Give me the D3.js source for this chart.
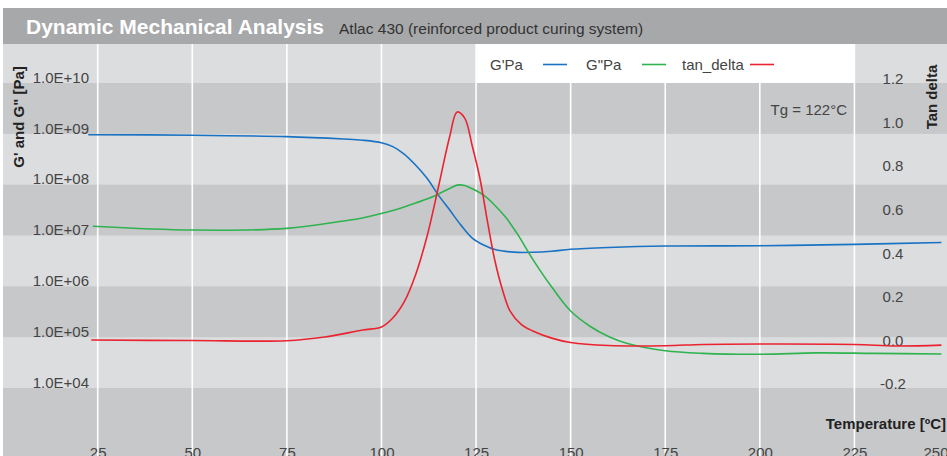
<!DOCTYPE html>
<html>
<head>
<meta charset="utf-8">
<script src="https://cdn.jsdelivr.net/npm/d3@7"></script>
<style>
  body { margin: 0; background: #fff; }
  svg { display: block; font-family: "Liberation Sans", Arial, sans-serif; }
</style>
</head>
<body>
<div id="chart"></div>
<script>
// DMA curves

// G' (storage modulus), Pa
const gPrimeTemp = [22.5, 50, 75, 90, 95, 100, 103, 106, 109, 112, 115, 118, 121, 124, 127, 130, 135, 140, 145, 150, 160, 175, 200, 225, 248];
const gPrimeVals = [9.6e8, 9.4e8, 8.8e8, 7.9e8, 7.5e8, 6.7e8, 5.6e8, 4.0e8, 2.44e8, 1.35e8, 6.3e7, 3.2e7, 1.6e7, 8.9e6, 6.5e6, 5.3e6, 4.7e6, 4.67e6, 4.9e6, 5.35e6, 5.8e6, 6.2e6, 6.3e6, 6.7e6, 7.3e6];

// G'' (loss modulus), Pa
const gDoubleTemp = [23.7, 50, 75, 90, 95, 100, 103, 106, 109, 112, 115, 118, 120, 122, 124, 127, 130, 133, 136, 140, 145, 150, 155, 160, 165, 175, 185, 200, 215, 230, 248];
const gDoubleVals = [1.52e7, 1.28e7, 1.38e7, 1.93e7, 2.21e7, 2.71e7, 3.1e7, 3.64e7, 4.36e7, 5.2e7, 6.5e7, 8.4e7, 9.8e7, 9.6e7, 8.3e7, 6.2e7, 3.9e7, 2.2e7, 1.05e7, 3.4e6, 9.7e5, 3.27e5, 1.66e5, 1.03e5, 7.5e4, 5.4e4, 4.8e4, 4.6e4, 4.9e4, 4.8e4, 4.67e4];

// tan delta
const tanTemp = [23.3, 50, 75, 85, 95, 100, 103, 106, 109, 112, 115, 118, 120, 122, 124, 126, 128, 130, 132, 134, 137, 140, 145, 150, 160, 175, 185, 200, 225, 236, 248];
const tanVals = [0.020, 0.018, 0.017, 0.034, 0.066, 0.080, 0.121, 0.195, 0.319, 0.493, 0.718, 0.952, 1.067, 1.039, 0.911, 0.764, 0.566, 0.383, 0.250, 0.153, 0.091, 0.062, 0.029, 0.009, -0.005, -0.006, 0.000, 0.002, 0.000, -0.007, -0.003];

const xTicks = [25, 50, 75, 100, 125, 150, 175, 200, 225, 250];
const leftTicks = [1e4, 1e5, 1e6, 1e7, 1e8, 1e9, 1e10];
const rightTicks = [-0.2, 0, 0.2, 0.4, 0.6, 0.8, 1.0, 1.2];

const legendNames = ["G'Pa", 'G"Pa', 'tan_delta'];
const seriesColors = ['#1a73c2', '#2eb34f', '#ea2330'];

const width = 947, height = 456;
const panelLeft = 3, headerTop = 8, plotTop = 44;
const labelFont = '"Liberation Sans", Arial, sans-serif';

const svg = d3.select('#chart').append('svg')
    .attr('width', width)
    .attr('height', height);

const x = d3.scaleLinear().domain([25, 250]).range([97.7, 949]);
const yLeft = d3.scaleLog().domain([1e4, 1e10]).range([388, 83]);
const yRight = d3.scaleLinear().domain([-0.2, 1.2]).range([388, 83]);

// header bar
svg.append('rect')
    .attr('x', panelLeft).attr('y', headerTop)
    .attr('width', width - panelLeft).attr('height', plotTop - headerTop)
    .attr('fill', '#a7a8aa');

svg.append('text')
    .attr('x', 26).attr('y', 34)
    .attr('fill', '#fff')
    .attr('font-size', '21px')
    .attr('font-weight', 'bold')
    .text('Dynamic Mechanical Analysis');

svg.append('text')
    .attr('x', 339).attr('y', 34)
    .attr('fill', '#333')
    .attr('font-size', '15.5px')
    .text('Atlac 430 (reinforced product curing system)');

// plot background: dark base + light bands every other decade
const plot = svg.append('g');
plot.append('rect')
    .attr('x', panelLeft).attr('y', plotTop)
    .attr('width', width - panelLeft).attr('height', height - plotTop)
    .attr('fill', '#c7c8ca');

[4, 6, 8, 10].forEach(d => {
    const top = Math.max(plotTop, yLeft(Math.pow(10, d + 1)));
    const bottom = yLeft(Math.pow(10, d));
    plot.append('rect')
        .attr('x', panelLeft).attr('y', top)
        .attr('width', width - panelLeft).attr('height', bottom - top)
        .attr('fill', '#dcdddf');
});

// vertical grid
plot.selectAll('.vgrid')
    .data(xTicks)
    .enter()
    .append('line')
    .attr('class', 'vgrid')
    .attr('x1', d => x(d)).attr('x2', d => x(d))
    .attr('y1', plotTop).attr('y2', height)
    .attr('stroke', '#fff')
    .attr('stroke-width', 1.6);

// legend box
const legend = svg.append('g');
legend.append('rect')
    .attr('x', 476).attr('y', plotTop)
    .attr('width', 378).attr('height', 39)
    .attr('fill', '#fff');

const legendTextX = [490, 586, 682];
const legendLineX = [543, 642, 750];
legendNames.forEach((name, i) => {
    legend.append('text')
        .attr('x', legendTextX[i]).attr('y', 70)
        .attr('fill', '#444')
        .attr('font-size', '15px')
        .text(name);
    legend.append('line')
        .attr('x1', legendLineX[i]).attr('x2', legendLineX[i] + 24)
        .attr('y1', 64.5).attr('y2', 64.5)
        .attr('stroke', seriesColors[i])
        .attr('stroke-width', 1.6);
});

// axes
const fmtExp = d => '1.0E+' + String(Math.round(Math.log10(d))).padStart(2, '0');

const leftAxis = svg.append('g')
    .attr('transform', 'translate(89,0)')
    .call(d3.axisLeft(yLeft).tickValues(leftTicks).tickFormat(fmtExp).tickSize(0).tickPadding(0));
leftAxis.select('.domain').remove();
leftAxis.selectAll('text')
    .attr('dy', '-0.05em')
    .attr('fill', '#444')
    .attr('font-size', '15px')
    .attr('font-family', labelFont);

const rightAxis = svg.append('g')
    .attr('transform', 'translate(893,0)')
    .call(d3.axisRight(yRight).tickValues(rightTicks).tickFormat(d => d.toFixed(1)).tickSize(0).tickPadding(0));
rightAxis.select('.domain').remove();
rightAxis.selectAll('text')
    .attr('text-anchor', 'middle')
    .attr('dy', '0.05em')
    .attr('fill', '#444')
    .attr('font-size', '15px')
    .attr('font-family', labelFont);

const bottomAxis = svg.append('g')
    .attr('transform', 'translate(0,447)')
    .call(d3.axisBottom(x).tickValues(xTicks).tickSize(0).tickPadding(0));
bottomAxis.select('.domain').remove();
bottomAxis.selectAll('text')
    .attr('fill', '#444')
    .attr('font-size', '15px')
    .attr('font-family', labelFont);
// last label is pulled inside the right edge
bottomAxis.selectAll('.tick')
    .filter(d => d === 250)
    .select('text')
    .attr('text-anchor', 'end')
    .attr('x', width - x(250) + 1);

// axis titles
svg.append('text')
    .attr('transform', 'translate(24,117) rotate(-90)')
    .attr('text-anchor', 'middle')
    .attr('fill', '#222')
    .attr('font-size', '15px')
    .attr('font-weight', 'bold')
    .text('G\' and G" [Pa]');

svg.append('text')
    .attr('transform', 'translate(937,97) rotate(-90)')
    .attr('text-anchor', 'middle')
    .attr('fill', '#222')
    .attr('font-size', '15px')
    .attr('font-weight', 'bold')
    .text('Tan delta');

svg.append('text')
    .attr('x', 946).attr('y', 429)
    .attr('text-anchor', 'end')
    .attr('fill', '#222')
    .attr('font-size', '15px')
    .attr('font-weight', 'bold')
    .text('Temperature [ºC]');

svg.append('text')
    .attr('x', 847).attr('y', 115)
    .attr('text-anchor', 'end')
    .attr('fill', '#444')
    .attr('font-size', '15px')
    .text('Tg = 122°C');

// curves
svg.append('clipPath').attr('id', 'plot-clip')
    .append('rect')
    .attr('x', panelLeft).attr('y', plotTop)
    .attr('width', width - panelLeft).attr('height', height - plotTop);

const curves = svg.append('g').attr('clip-path', 'url(#plot-clip)');

const series = [
    { temp: gPrimeTemp, vals: gPrimeVals, y: yLeft },
    { temp: gDoubleTemp, vals: gDoubleVals, y: yLeft },
    { temp: tanTemp, vals: tanVals, y: yRight }
];

series.forEach((s, i) => {
    const line = d3.line()
        .x(d => x(d[0]))
        .y(d => s.y(d[1]))
        .curve(d3.curveCatmullRom.alpha(0.5));
    curves.append('path')
        .attr('d', line(d3.zip(s.temp, s.vals)))
        .attr('fill', 'none')
        .attr('stroke', seriesColors[i])
        .attr('stroke-width', 1.6);
});
</script>
</body>
</html>
